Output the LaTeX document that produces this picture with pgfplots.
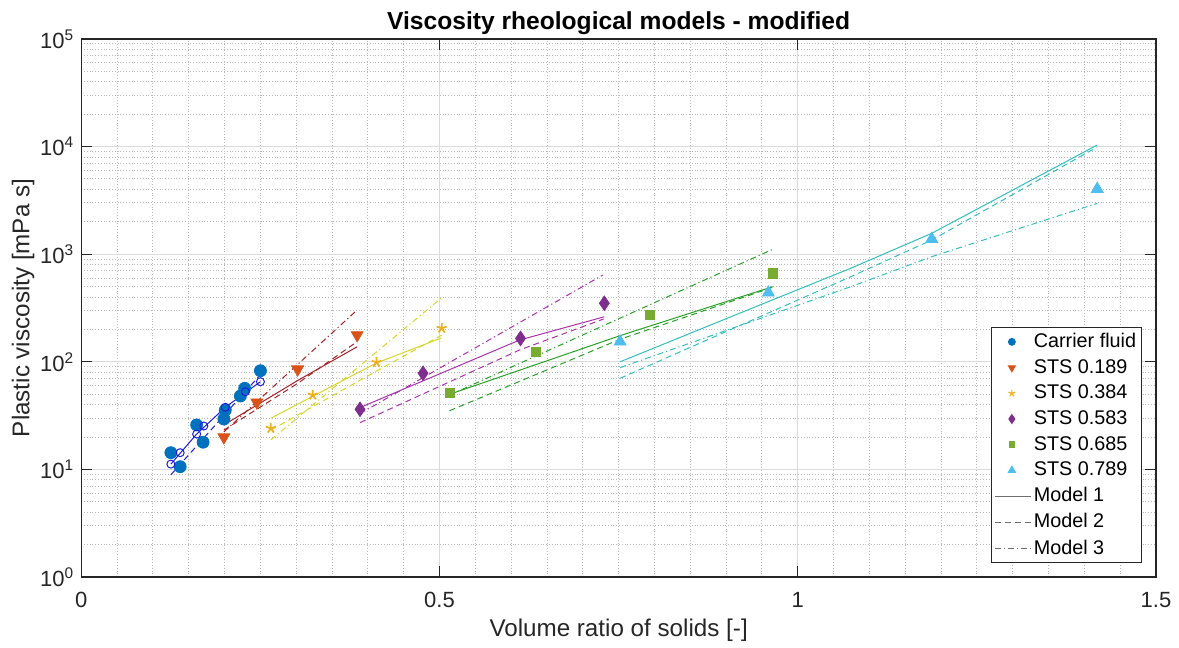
\documentclass[border=0pt]{standalone}
\usepackage{fontspec}
\setmainfont{Liberation Sans}
\usepackage{pgfplots}
\pgfplotsset{compat=1.18}
\definecolor{axcol}{HTML}{262626}
\definecolor{c1}{HTML}{0072BD}
\definecolor{c2}{HTML}{D95319}
\definecolor{c3}{HTML}{EDB120}
\definecolor{c4}{HTML}{7E2F8E}
\definecolor{c5}{HTML}{77AC30}
\definecolor{c6}{HTML}{4DBEEE}
\definecolor{m1}{RGB}{30,30,215}
\definecolor{m2}{RGB}{165,35,40}
\definecolor{m3}{RGB}{215,215,40}
\definecolor{m4}{RGB}{170,50,170}
\definecolor{m5}{RGB}{40,160,40}
\definecolor{m6}{RGB}{50,190,190}
\definecolor{leggray}{RGB}{110,110,110}
\pgfplotsset{
  modelleg/.style={legend image code/.code={\draw[##1] (0pt,0pt) -- (18pt,0pt);}},
  mdash/.style={dash pattern=on 3pt off 2pt},
  mdashdot/.style={dash pattern=on 3pt off 1.5pt on 0.6pt off 1.5pt},
}
\begin{document}
\begin{tikzpicture}
\begin{axis}[
  scale only axis, width=537.35pt, height=269pt,
  xmin=0, xmax=1.5, ymin=1, ymax=100000, ymode=log, log basis y=10,
  xtick={0,0.5,1,1.5}, xticklabels={0,0.5,1,1.5},
  minor x tick num=9,
  ytick={1,10,100,1000,10000,100000},
  yticklabels={10\textsuperscript{0},10\textsuperscript{1},10\textsuperscript{2},10\textsuperscript{3},10\textsuperscript{4},10\textsuperscript{5}},
  minor ytick={2,3,4,5,6,7,8,9,20,30,40,50,60,70,80,90,200,300,400,500,600,700,800,900,2000,3000,4000,5000,6000,7000,8000,9000,20000,30000,40000,50000,60000,70000,80000,90000},
  grid=both,
  major grid style={gray!28, line width=0.6pt},
  minor grid style={gray!55, densely dotted, line width=0.5pt},
  tick align=inside, xtick pos=both, ytick pos=both,
  major tick length=5.4pt, minor tick length=0pt,
  tick style={axcol, line width=0.5pt},
  axis line style={axcol, line width=0.6pt},
  ticklabel style={font=\fontsize{11}{13}\selectfont, text=axcol},
  xticklabel style={yshift=-4pt},
  xlabel={Volume ratio of solids [-]},
  ylabel={Plastic viscosity [mPa s]},
  xlabel style={font=\fontsize{12.1}{14}\selectfont, text=axcol, at={(axis description cs:0.5,0)}, anchor=base, yshift=-30pt},
  ylabel style={font=\fontsize{12.1}{14}\selectfont, text=axcol, at={([xshift=-26pt]axis description cs:0,0.5)}, anchor=base},
  title={\bfseries Viscosity rheological models - modified},
  title style={font=\fontsize{12.3}{14}\selectfont, at={(axis description cs:0.5,1)}, anchor=base, yshift=-1.5pt},
  legend style={at={(0.987,0.026)}, anchor=south east, draw=axcol, line width=0.5pt, fill=white,
    font=\fontsize{9.9}{11}\selectfont, inner sep=1.5pt, row sep=2pt,
    nodes={inner sep=1.2pt}},
  legend cell align=left,
]
\coordinate (SW) at (rel axis cs:0,0);
\coordinate (NE) at (rel axis cs:1,1);
% data markers
\addplot[forget plot, only marks, mark=*, color=c1, mark size=3pt] coordinates {
(0.125,14.3) (0.138,10.6) (0.161,25.9) (0.170,17.9) (0.199,29.4) (0.201,35.6) (0.222,48.1) (0.228,56.7) (0.250,82.6)};
\addplot[forget plot, only marks, mark=triangle*, mark options={rotate=180}, color=c2, mark size=3.4pt] coordinates {
(0.199,19.9) (0.245,42.0) (0.302,85.2) (0.385,177)};
\addplot[forget plot, only marks, mark=star, mark options={line width=0.9pt}, color=c3, mark size=2.6pt] coordinates {
(0.2645,24.1) (0.323,49.1) (0.412,98.9) (0.503,205)};
\addplot[forget plot, only marks, mark=diamond*, mark options={yscale=1.1}, color=c4, mark size=3.3pt] coordinates {
(0.389,36.2) (0.477,78.2) (0.613,165) (0.730,350)};
\addplot[forget plot, only marks, mark=square*, color=c5, mark size=2.3pt] coordinates {
(0.514,51.6) (0.635,123) (0.794,274) (0.965,664)};
\addplot[forget plot, only marks, mark=triangle*, color=c6, mark size=3.4pt] coordinates {
(0.752,154) (0.959,439) (1.187,1384) (1.418,4036)};
% carrier fluid model
\addplot[forget plot, only marks, mark=o, color=m1, mark size=2pt, mark options={line width=0.5pt}] coordinates {
(0.125,11.2) (0.138,14.3) (0.161,21.3) (0.171,25.3) (0.201,37.8) (0.229,52.7) (0.250,65.3)};
\addplot[forget plot, no marks, color=m1, line width=0.5pt] coordinates {(0.125,11.2) (0.161,21.3) (0.201,37.8) (0.250,65.3)};
\addplot[forget plot, no marks, color=m1, line width=0.5pt, mdash] coordinates {(0.125,8.9) (0.250,76)};
% STS 0.189
\addplot[forget plot, no marks, color=m2, line width=0.5pt] coordinates {(0.199,25.9) (0.302,67) (0.385,138)};
\addplot[forget plot, no marks, color=m2, line width=0.5pt, mdash] coordinates {(0.199,23.2) (0.302,63) (0.385,154)};
\addplot[forget plot, no marks, color=m2, line width=0.5pt, mdashdot] coordinates {(0.199,22.3) (0.385,303)};
% STS 0.384
\addplot[forget plot, no marks, color=m3, line width=0.5pt] coordinates {(0.2645,29.9) (0.412,97.5) (0.503,167)};
\addplot[forget plot, no marks, color=m3, line width=0.5pt, mdash] coordinates {(0.2645,23.2) (0.412,82) (0.503,177)};
\addplot[forget plot, no marks, color=m3, line width=0.5pt, mdashdot] coordinates {(0.2645,18.8) (0.503,394)};
% STS 0.583
\addplot[forget plot, no marks, color=m4, line width=0.5pt] coordinates {(0.392,38.3) (0.612,159.6) (0.730,262)};
\addplot[forget plot, no marks, color=m4, line width=0.5pt, mdash] coordinates {(0.389,27.2) (0.612,129) (0.729,250)};
\addplot[forget plot, no marks, color=m4, line width=0.5pt, mdashdot] coordinates {(0.389,33) (0.728,641)};
% STS 0.685
\addplot[forget plot, no marks, color=m5, line width=0.5pt] coordinates {(0.514,49.9) (0.752,175) (0.965,499)};
\addplot[forget plot, no marks, color=m5, line width=0.5pt, mdash] coordinates {(0.514,35.1) (0.752,162) (0.964,490)};
\addplot[forget plot, no marks, color=m5, line width=0.5pt, mdashdot] coordinates {(0.514,49.1) (0.965,1110)};
% STS 0.789
\addplot[forget plot, no marks, color=m6, line width=0.5pt] coordinates {(0.752,100) (0.959,363) (1.074,740) (1.187,1564) (1.418,10350)};
\addplot[forget plot, no marks, color=m6, line width=0.5pt, mdash] coordinates {(0.752,70.3) (1.074,618) (1.187,1355) (1.418,9910)};
\addplot[forget plot, no marks, color=m6, line width=0.5pt, mdashdot] coordinates {(0.752,88.2) (1.074,499) (1.187,948) (1.418,2970)};
% legend
\addlegendimage{only marks, mark=*, color=c1, mark size=1.7pt}
\addlegendentry{Carrier fluid}
\addlegendimage{only marks, mark=triangle*, mark options={rotate=180}, color=c2, mark size=2pt}
\addlegendentry{STS 0.189}
\addlegendimage{only marks, mark=star, color=c3, mark size=1.8pt, mark options={line width=0.6pt}}
\addlegendentry{STS 0.384}
\addlegendimage{only marks, mark=diamond*, color=c4, mark size=2pt, mark options={yscale=1.1}}
\addlegendentry{STS 0.583}
\addlegendimage{only marks, mark=square*, color=c5, mark size=1.4pt}
\addlegendentry{STS 0.685}
\addlegendimage{only marks, mark=triangle*, color=c6, mark size=2pt}
\addlegendentry{STS 0.789}
\addlegendimage{no marks, color=leggray, line width=0.6pt, modelleg}
\addlegendentry{Model 1}
\addlegendimage{no marks, color=leggray, line width=0.6pt, mdash, modelleg}
\addlegendentry{Model 2}
\addlegendimage{no marks, color=leggray, line width=0.6pt, mdashdot, modelleg}
\addlegendentry{Model 3}
\end{axis}
\pgfresetboundingbox
\path ([xshift=-40.65pt,yshift=-35.5pt]SW) rectangle ([xshift=11.5pt,yshift=19.5pt]NE);
\end{tikzpicture}
\end{document}
